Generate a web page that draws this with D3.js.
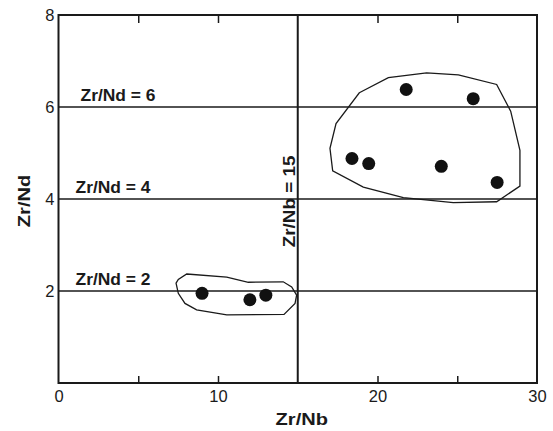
<!DOCTYPE html>
<html>
<head>
<meta charset="utf-8">
<script src="https://cdn.jsdelivr.net/npm/d3@7"></script>
<style>
  html, body { margin: 0; padding: 0; background: #fff; }
  svg { display: block; }
</style>
</head>
<body>
<svg id="chart" width="553" height="431"></svg>
<script>
// ---- data ----
const xDomain = [0, 30];
const yDomain = [0, 8];
const xTickLabels = [0, 10, 20, 30];
const xTickMarks = [5, 10, 20, 25];
const yTickLabels = [2, 4, 6, 8];
const refLinesY = [6, 4, 2];
const refLineLabels = ["Zr/Nd = 6", "Zr/Nd = 4", "Zr/Nd = 2"];
const refLineX = 15;
const refLineXLabel = "Zr/Nb = 15";
const xTitle = "Zr/Nb";
const yTitle = "Zr/Nd";

const groupA_x = [9.0, 12.0, 13.0];
const groupA_y = [1.95, 1.81, 1.91];
const groupB_x = [21.8, 26.0, 18.4, 19.45, 24.0, 27.5];
const groupB_y = [6.38, 6.18, 4.88, 4.77, 4.71, 4.36];

const hullA_x = [8.04, 10.55, 11.90, 14.09, 14.62, 14.93, 14.83, 14.14, 10.55, 8.66, 7.93, 7.51, 7.37, 7.51];
const hullA_y = [2.37, 2.30, 2.19, 2.20, 2.09, 1.91, 1.73, 1.49, 1.48, 1.59, 1.73, 1.95, 2.17, 2.25];
const hullB_x = [18.86, 20.68, 23.08, 25.07, 27.47, 28.35, 28.93, 28.93, 27.47, 24.75, 21.62, 19.11, 17.19, 17.02, 17.40];
const hullB_y = [6.31, 6.64, 6.74, 6.70, 6.49, 5.91, 5.06, 4.28, 3.94, 3.92, 4.03, 4.26, 4.61, 5.10, 5.64];

// ---- layout ----
const W = 553, H = 431;
const m = { left: 58.5, right: 16, top: 15, bottom: 48 };
const ink = "#1a1a1a";
const font = "'Liberation Sans', Arial, Helvetica, sans-serif";
const refLabelDx = [22, 17, 17]; // pixel offsets of line labels from left axis

const svg = d3.select("#chart");
const x = d3.scaleLinear().domain(xDomain).range([m.left, W - m.right]);
const y = d3.scaleLinear().domain(yDomain).range([H - m.bottom, m.top]);

// reference horizontal lines
svg.append("g").selectAll("line").data(refLinesY).join("line")
  .attr("x1", x(xDomain[0])).attr("x2", x(xDomain[1]))
  .attr("y1", d => y(d)).attr("y2", d => y(d))
  .attr("stroke", ink).attr("stroke-width", 1.6);

// vertical reference line
svg.append("line")
  .attr("x1", x(refLineX)).attr("x2", x(refLineX))
  .attr("y1", y(yDomain[0])).attr("y2", y(yDomain[1]))
  .attr("stroke", ink).attr("stroke-width", 2);

// hulls
const hullLine = d3.line().x(d => x(d[0])).y(d => y(d[1])).curve(d3.curveLinearClosed);
const hullA = hullA_x.map((v, i) => [v, hullA_y[i]]);
const hullB = hullB_x.map((v, i) => [v, hullB_y[i]]);
svg.append("g").selectAll("path").data([hullA, hullB]).join("path")
  .attr("d", hullLine)
  .attr("fill", "none").attr("stroke", ink).attr("stroke-width", 1.3);

// points
const pts = groupA_x.map((v, i) => [v, groupA_y[i]]).concat(groupB_x.map((v, i) => [v, groupB_y[i]]));
svg.append("g").selectAll("circle").data(pts).join("circle")
  .attr("cx", d => x(d[0])).attr("cy", d => y(d[1])).attr("r", 6.5)
  .attr("fill", "#111");

// frame
svg.append("rect")
  .attr("x", x(xDomain[0])).attr("y", y(yDomain[1]))
  .attr("width", x(xDomain[1]) - x(xDomain[0]))
  .attr("height", y(yDomain[0]) - y(yDomain[1]))
  .attr("fill", "none").attr("stroke", ink).attr("stroke-width", 2);

// bottom axis: inward tick marks
const bottomAx = svg.append("g").attr("transform", `translate(0,${y(yDomain[0])})`)
  .call(d3.axisBottom(x).tickValues(xTickMarks).tickSizeInner(-7).tickSizeOuter(0).tickFormat(""));
bottomAx.select(".domain").remove();
bottomAx.selectAll("line").attr("stroke", ink).attr("stroke-width", 1.5);

// bottom tick labels
const bottomLab = svg.append("g").attr("transform", `translate(0,${y(yDomain[0])})`)
  .call(d3.axisBottom(x).tickValues(xTickLabels).tickSize(0).tickPadding(7).tickFormat(d3.format("d")));
bottomLab.select(".domain").remove();
bottomLab.selectAll("text").attr("font-family", font).attr("font-size", 16.5).attr("fill", ink);

// top axis: inward ticks
const topAx = svg.append("g").attr("transform", `translate(0,${y(yDomain[1])})`)
  .call(d3.axisTop(x).tickValues(xTickMarks).tickSizeInner(-8).tickSizeOuter(0).tickFormat(""));
topAx.select(".domain").remove();
topAx.selectAll("line").attr("stroke", ink).attr("stroke-width", 1.5);

// left labels
const leftAx = svg.append("g").attr("transform", `translate(${x(xDomain[0])},0)`)
  .call(d3.axisLeft(y).tickValues(yTickLabels).tickSize(0).tickPadding(4).tickFormat(d3.format("d")));
leftAx.select(".domain").remove();
leftAx.selectAll("text").attr("font-family", font).attr("font-size", 16.5).attr("fill", ink);

// reference line labels
svg.append("g").selectAll("text").data(refLinesY).join("text")
  .attr("transform", (d, i) => `translate(${x(xDomain[0]) + refLabelDx[i]},${y(d) - 6}) scale(1.09,1)`)
  .attr("font-family", font).attr("font-weight", "bold").attr("font-size", 16)
  .attr("fill", ink)
  .text((d, i) => refLineLabels[i]);

// vertical line label
svg.append("text")
  .attr("transform", `translate(${x(refLineX) - 3},${y(2.95)}) rotate(-90) scale(1.18,1)`)
  .attr("font-family", font).attr("font-weight", "bold").attr("font-size", 16)
  .attr("fill", ink)
  .text(refLineXLabel);

// axis titles
svg.append("text")
  .attr("transform", `translate(${(x(xDomain[0]) + x(xDomain[1])) / 2 + 4},${H - 6}) scale(1.18,1)`)
  .attr("text-anchor", "middle")
  .attr("font-family", font).attr("font-weight", "bold").attr("font-size", 17)
  .attr("fill", ink)
  .text(xTitle);

svg.append("text")
  .attr("transform", `translate(30,${(y(yDomain[0]) + y(yDomain[1])) / 2 + 2}) rotate(-90) scale(1.18,1)`)
  .attr("text-anchor", "middle")
  .attr("font-family", font).attr("font-weight", "bold").attr("font-size", 17)
  .attr("fill", ink)
  .text(yTitle);
</script>
</body>
</html>
